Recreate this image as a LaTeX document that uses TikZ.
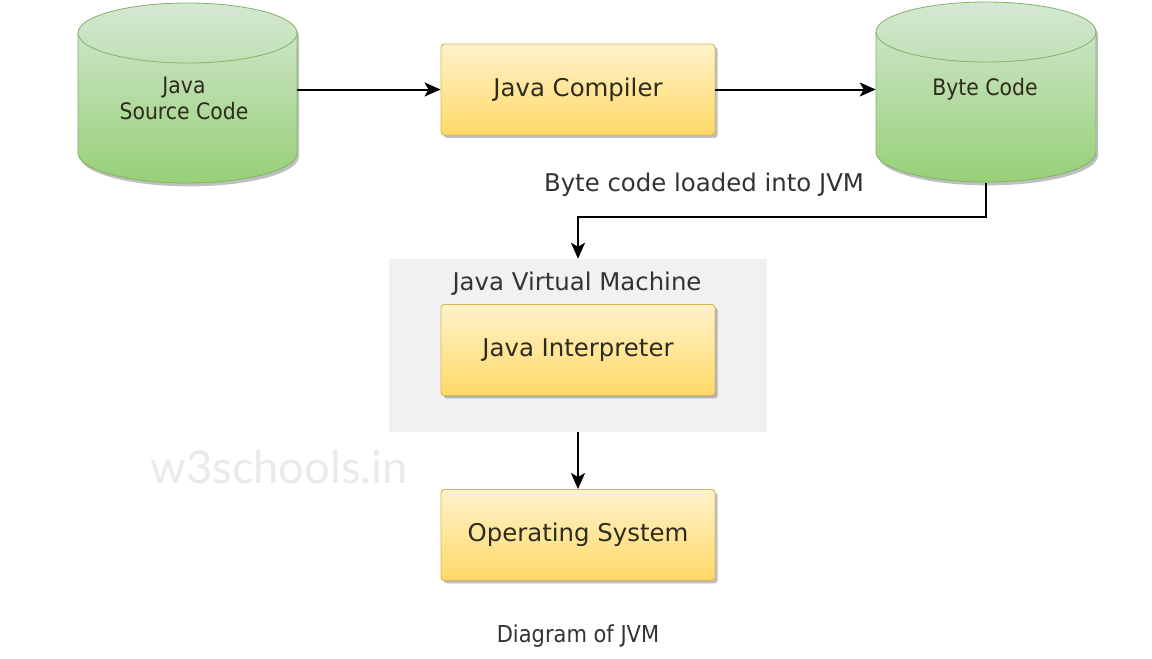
\documentclass[tikz,border=0pt]{standalone}
\usepackage{fontspec}
\setmainfont{DejaVu Sans}
\newfontfamily\wmfont{Lato}
\newfontfamily\narrowfont[FakeStretch=0.9]{DejaVu Sans}
\usetikzlibrary{arrows.meta,shadows,positioning}
\definecolor{ytop}{HTML}{FFF2CC}
\definecolor{ybot}{HTML}{FFD966}
\definecolor{yedge}{HTML}{D6B656}
\definecolor{gtop}{HTML}{D5E8D4}
\definecolor{gbot}{HTML}{97D077}
\definecolor{gedge}{HTML}{82B366}
\definecolor{txt}{HTML}{333333}
\definecolor{boxtxt}{HTML}{2E2A1E}
\definecolor{jvmfill}{HTML}{F1F1F1}
\definecolor{wm}{HTML}{EAEAEA}
\tikzset{
  procbox/.style={rectangle, rounded corners=2.5pt, draw=yedge, line width=0.7pt,
    top color=ytop, bottom color=ybot,
    drop shadow={shadow xshift=2pt, shadow yshift=-2.2pt, opacity=0.25, fill=black},
    minimum width=205.5pt, minimum height=68.25pt, inner sep=0pt,
    font=\fontsize{18.3}{22}\selectfont, text=boxtxt},
  cylbody/.style={draw=gedge, line width=0.6pt, top color=gtop, bottom color=gbot,
    drop shadow={shadow xshift=1.5pt, shadow yshift=-2.5pt, opacity=0.25, fill=black}},
  cylline/.style={draw=gedge, line width=0.6pt},
  cyltext/.style={font=\narrowfont\fontsize{17}{19.5}\selectfont, text=boxtxt, align=center},
  cylhold/.style={rectangle, inner sep=0pt, minimum width=164.25pt, minimum height=135.75pt},
  labeltext/.style={font=\fontsize{18.3}{22}\selectfont, text=txt},
  captext/.style={font=\narrowfont\fontsize{17.5}{20}\selectfont, text=txt},
  conn/.style={line width=1.5pt, -{Stealth[length=12pt,width=10.5pt,inset=3pt]}},
}
\begin{document}
\begin{tikzpicture}[x=0.75pt,y=-0.75pt]
\path[fill=white,use as bounding box] (0,0) rectangle (1152,658);

% watermark
\node[font=\wmfont\fontsize{34}{40}\selectfont, text=wm] (wmark) at (279,467) {w3schools.in};

% left cylinder
\path[cylbody] (78,33) -- (78,153) arc[start angle=180,end angle=360,x radius=82.125pt,y radius=22.5pt]
  -- (297,33) arc[start angle=0,end angle=180,x radius=82.125pt,y radius=22.5pt] -- cycle;
\path[cylline] (78,33) arc[start angle=180,end angle=360,x radius=82.125pt,y radius=22.5pt];
\node[cylhold] (src) at (187.5,93) {};
\node[cyltext] (srctext) at (184,98) {Java\\Source Code};

% right cylinder
\path[cylbody] (876,32) -- (876,152) arc[start angle=180,end angle=360,x radius=82.5pt,y radius=22.5pt]
  -- (1096,32) arc[start angle=0,end angle=180,x radius=82.5pt,y radius=22.5pt] -- cycle;
\path[cylline] (876,32) arc[start angle=180,end angle=360,x radius=82.5pt,y radius=22.5pt];
\node[cylhold, minimum width=165pt] (bc) at (986,92) {};
\node[cyltext] (bctext) at (985,89) {Byte Code};

% JVM container
\node[rectangle, fill=jvmfill, minimum width=283.5pt, minimum height=129.75pt, inner sep=0pt] (jvm) at (578,345.5) {};
\node[labeltext] (jvmtitle) at (577,283.5) {Java Virtual Machine};

% boxes
\node[procbox] (comp) at (578,89.5) {\raisebox{-1.5pt}{Java Compiler}};
\node[procbox] (interp) at (578,350) {\raisebox{-1.5pt}{Java Interpreter}};
\node[procbox] (os) at (578,535) {\raisebox{-1.5pt}{Operating System}};

% labels
\node[labeltext] (loadlbl) at (704,184.5) {Byte code loaded into JVM};
\node[captext] (caption) at (578,636) {Diagram of JVM};

% connectors
\draw[conn] (src.east |- comp.west) -- (comp.west);
\draw[conn] (comp.east) -- (comp.east -| bc.west);
\draw[conn] (bc.south) -- ++(0,34) -| (jvm.north);
\draw[conn] (jvm.south) -- (os.north);
\end{tikzpicture}
\end{document}
